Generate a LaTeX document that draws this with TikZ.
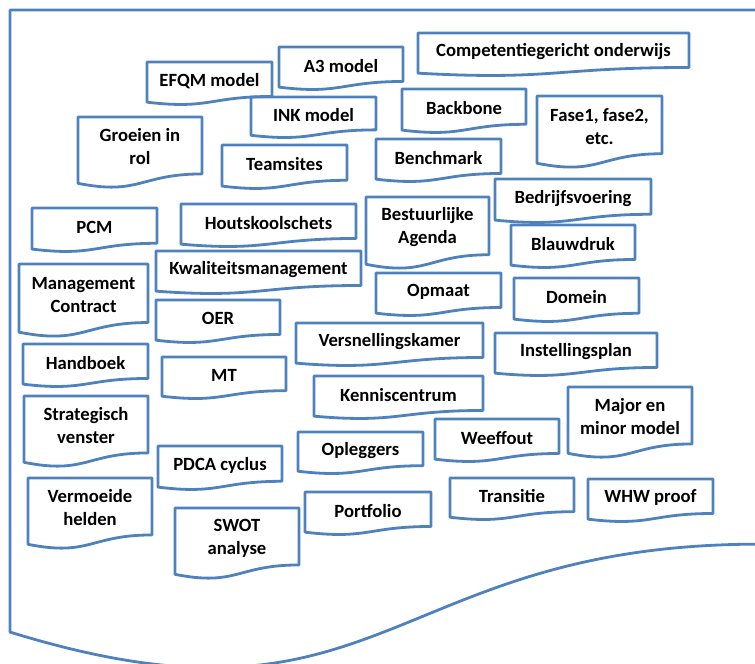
\documentclass[tikz,border=0pt]{standalone}
\usepackage{fontspec}
\setmainfont{Carlito}
\definecolor{docblue}{HTML}{4F81BD}
\tikzset{
  docline/.style={draw=docblue, line width=2.1pt, line join=round},
  doctext/.style={font=\bfseries\fontsize{14}{17.2}\selectfont, align=center, inner sep=0pt, text=black},
}
% #1 name, #2 left, #3 top, #4 right, #5 height, #6 text
\newcommand{\docbox}[6]{%
  \draw[docline] (#2,#3) -- (#4,#3) -- (#4,{#3+0.802*#5})
    .. controls ({(#2+#4)/2},{#3+0.802*#5}) and ({(#2+#4)/2},{#3+1.108*#5}) ..
    (#2,{#3+0.934*#5}) -- cycle;
  \node[doctext] (#1) at ({(#2+#4)/2},{#3+0.401*#5+1.5}) {#6};
}
\begin{document}
\begin{tikzpicture}[x=0.75pt, y=-0.75pt]
\useasboundingbox (0,0) rectangle (755,663);
\clip (0,0) rectangle (755,663);
% outer document shape
\draw[docline] (10,10) -- (760,10) -- (760,{10+0.802*666})
  .. controls (385,{10+0.802*666}) and (385,{10+1.108*666}) ..
  (10,{10+0.934*666}) -- cycle;

\docbox{efqm}{147}{62}{272}{43}{EFQM model}
\docbox{a3}{279}{47}{403}{43}{A3 model}
\docbox{ink}{251}{97}{376}{41}{INK model}
\docbox{groeien}{78}{117}{202}{71}{Groeien in\\rol}
\docbox{teamsites}{222}{145}{347}{44}{Teamsites}
\docbox{competentie}{418}{33}{689}{43}{Competentiegericht onderwijs}
\docbox{backbone}{402}{89}{526}{44}{Backbone}
\docbox{fase}{537}{96}{662}{72}{Fase1, fase2,\\etc.}
\docbox{benchmark}{376}{139}{501}{43}{Benchmark}
\docbox{bedrijf}{495}{179}{651}{44}{Bedrijfsvoering}
\docbox{bestuur}{366}{197}{489}{72}{Bestuurlijke\\Agenda}
\docbox{blauwdruk}{511}{225}{635}{43}{Blauwdruk}
\docbox{opmaat}{376}{273}{501}{43}{Opmaat}
\docbox{domein}{514}{278}{639}{44}{Domein}
\docbox{instelling}{495}{333}{657}{43}{Instellingsplan}
\docbox{pcm}{32}{208}{157}{44}{PCM}
\docbox{houtskool}{181}{204}{356}{43}{Houtskoolschets}
\docbox{kwaliteit}{156}{251}{361}{43}{Kwaliteitsmanagement}
\docbox{mancontract}{19}{264}{148}{73}{Management\\Contract}
\docbox{oer}{156}{300}{280}{43}{OER}
\docbox{versnelling}{296}{323}{483}{43}{Versnellingskamer}
\docbox{handboek}{23}{344}{148}{43}{Handboek}
\docbox{mt}{162}{357}{286}{42}{MT}
\docbox{kennis}{314}{376}{483}{43}{Kenniscentrum}
\docbox{strategisch}{24}{396}{148}{71}{Strategisch\\venster}
\docbox{pdca}{158}{446}{282}{44}{PDCA cyclus}
\docbox{vermoeide}{28}{478}{152}{71}{Vermoeide\\helden}
\docbox{swot}{175}{508}{299}{71}{SWOT\\analyse}
\docbox{opleggers}{298}{432}{423}{42}{Opleggers}
\docbox{portfolio}{305}{492}{431}{43}{Portfolio}
\docbox{weeffout}{435}{419}{559}{43}{Weeffout}
\docbox{major}{568}{387}{692}{71}{Major en\\minor model}
\docbox{transitie}{450}{478}{574}{42}{Transitie}
\docbox{whw}{588}{479}{713}{43}{WHW proof}
\end{tikzpicture}
\end{document}
